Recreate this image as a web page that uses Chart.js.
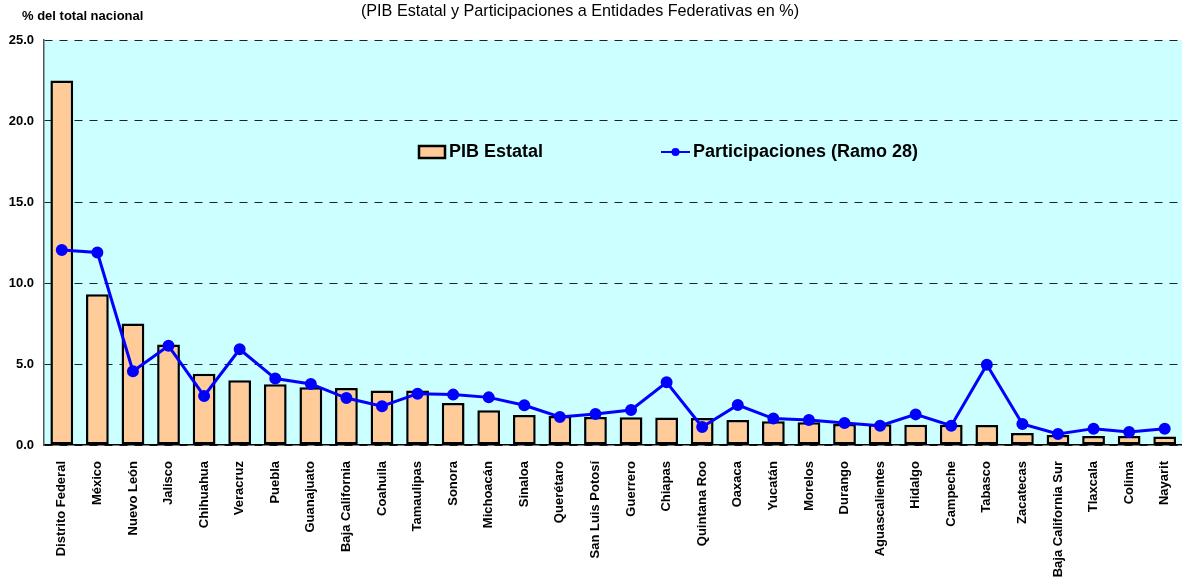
<!DOCTYPE html>
<html>
<head>
<meta charset="utf-8">
<script src="https://cdn.jsdelivr.net/npm/chart.js@4/dist/chart.umd.min.js"></script>
<style>
  html, body { margin: 0; padding: 0; background: #fff; overflow: hidden; }
  #wrap { width: 1190px; height: 577px; position: relative; }
</style>
</head>
<body>
<div id="wrap"><canvas id="chart"></canvas></div>
<script>
// ─── Data ──────────────────────────────────────────────────
const ESTADOS = [
  'Distrito Federal', 'México', 'Nuevo León', 'Jalisco', 'Chihuahua', 'Veracruz',
  'Puebla', 'Guanajuato', 'Baja California', 'Coahuila', 'Tamaulipas', 'Sonora',
  'Michoacán', 'Sinaloa', 'Querétaro', 'San Luis Potosí', 'Guerrero', 'Chiapas',
  'Quintana Roo', 'Oaxaca', 'Yucatán', 'Morelos', 'Durango', 'Aguascalientes',
  'Hidalgo', 'Campeche', 'Tabasco', 'Zacatecas', 'Baja California Sur', 'Tlaxcala',
  'Colima', 'Nayarit'
];
const PIB_ESTATAL = [
  22.5, 9.3, 7.5, 6.2, 4.4, 4.0, 3.75, 3.56, 3.52, 3.36, 3.36, 2.6,
  2.14, 1.85, 1.79, 1.73, 1.71, 1.7, 1.67, 1.55, 1.46, 1.4, 1.3, 1.28,
  1.25, 1.25, 1.24, 0.74, 0.62, 0.56, 0.56, 0.53
];
const RAMO_28 = [
  12.03, 11.88, 4.55, 6.12, 3.03, 5.91, 4.1, 3.77, 2.9, 2.39, 3.17, 3.11,
  2.94, 2.45, 1.73, 1.92, 2.16, 3.87, 1.11, 2.47, 1.63, 1.55, 1.36, 1.19,
  1.89, 1.19, 4.96, 1.3, 0.68, 1.01, 0.8, 1.01
];
const Y_TICKS = [0, 5, 10, 15, 20, 25];

const SUBTITULO = '(PIB Estatal y Participaciones a Entidades Federativas en %)';
const EJE_Y = '% del total nacional';

const FONT = "'Liberation Sans', Arial, sans-serif";
const BAR_FILL = '#FFCC99';
const LINE_BLUE = '#0000FF';
const PLOT_BG = '#CCFFFF';

// ─── Plugins ───────────────────────────────────────────────
const plotBackground = {
  id: 'plotBackground',
  beforeDraw(chart) {
    const { ctx, chartArea: a } = chart;
    ctx.save();
    ctx.fillStyle = PLOT_BG;
    ctx.fillRect(a.left, a.top, a.right - a.left, a.bottom - a.top);
    ctx.restore();
  }
};

const textosYLeyenda = {
  id: 'textosYLeyenda',
  afterDraw(chart) {
    const { ctx } = chart;
    const barDs = chart.data.datasets.find(d => d.type === 'bar');
    const lineDs = chart.data.datasets.find(d => d.type === 'line');
    ctx.save();
    ctx.fillStyle = '#000';
    ctx.textBaseline = 'middle';

    // subtitle
    ctx.font = `16.2px ${FONT}`;
    ctx.textAlign = 'center';
    ctx.fillText(SUBTITULO, 580, 12);

    // y axis caption
    ctx.font = `bold 13px ${FONT}`;
    ctx.textAlign = 'left';
    ctx.fillText(EJE_Y, 22, 16);

    // legend
    const ly = 152;
    ctx.fillStyle = BAR_FILL;
    ctx.strokeStyle = '#000';
    ctx.lineWidth = 2.5;
    ctx.fillRect(419, ly - 6, 26, 12);
    ctx.strokeRect(419, ly - 6, 26, 12);
    ctx.fillStyle = '#000';
    ctx.font = `bold 18px ${FONT}`;
    ctx.fillText(barDs.label, 449, ly);

    ctx.strokeStyle = LINE_BLUE;
    ctx.lineWidth = 2;
    ctx.beginPath();
    ctx.moveTo(661, ly);
    ctx.lineTo(690, ly);
    ctx.stroke();
    ctx.fillStyle = LINE_BLUE;
    ctx.beginPath();
    ctx.arc(675.5, ly, 4, 0, Math.PI * 2);
    ctx.fill();
    ctx.fillStyle = '#000';
    ctx.fillText(lineDs.label, 693, ly);
    ctx.restore();
  }
};

// ─── Chart ─────────────────────────────────────────────────
new Chart(document.getElementById('chart'), {
  type: 'bar',
  data: {
    labels: ESTADOS,
    datasets: [
      {
        type: 'line',
        label: 'Participaciones (Ramo 28)',
        data: RAMO_28,
        borderColor: LINE_BLUE,
        backgroundColor: LINE_BLUE,
        borderWidth: 3,
        pointRadius: 4.5,
        pointBackgroundColor: LINE_BLUE,
        pointBorderColor: LINE_BLUE,
        tension: 0,
        order: 0
      },
      {
        type: 'bar',
        label: 'PIB Estatal',
        data: PIB_ESTATAL,
        backgroundColor: BAR_FILL,
        borderColor: '#000',
        borderWidth: 2.5,
        borderSkipped: false,
        categoryPercentage: 1,
        barPercentage: 0.64,
        order: 1
      }
    ]
  },
  options: {
    responsive: true,
    maintainAspectRatio: false,
    animation: false,
    layout: { padding: { top: 40, left: 0, right: 2, bottom: 0 } },
    plugins: {
      legend: { display: false },
      title: { display: false },
      tooltip: { enabled: false }
    },
    scales: {
      x: {
        offset: true,
        grid: { display: false },
        border: { color: '#000', width: 1.5 },
        ticks: {
          autoSkip: false,
          maxRotation: 90,
          minRotation: 90,
          padding: 8,
          color: '#000',
          font: { family: FONT, size: 13, weight: 'bold' }
        },
        afterFit: s => { s.height = 132; }
      },
      y: {
        min: 0,
        max: 25,
        afterBuildTicks: s => { s.ticks = Y_TICKS.map(v => ({ value: v })); },
        grid: { color: '#222', lineWidth: 1, drawTicks: false },
        border: { color: '#555', width: 1.5, dash: [8, 7] },
        ticks: {
          padding: 10,
          color: '#000',
          font: { family: FONT, size: 13, weight: 'bold' },
          callback: v => v.toFixed(1)
        },
        afterFit: s => { s.width = 44; }
      }
    }
  },
  plugins: [plotBackground, textosYLeyenda]
});
</script>
</body>
</html>
